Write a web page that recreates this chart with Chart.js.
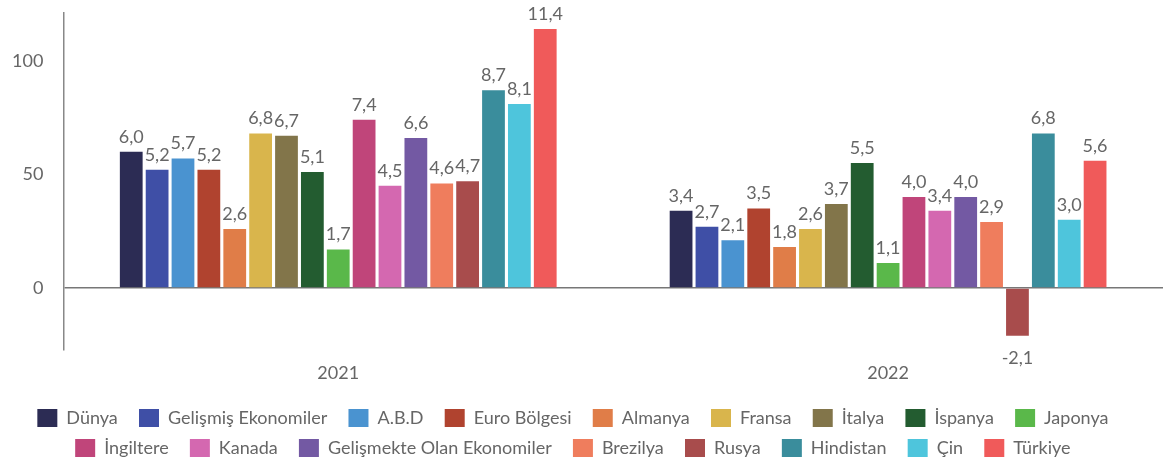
<!DOCTYPE html>
<html>
<head>
<meta charset="utf-8">
<script src="https://cdn.jsdelivr.net/npm/chart.js@4.4.1/dist/chart.umd.min.js"></script>
<style>
  html, body { margin: 0; padding: 0; background: #fff; }
  #wrap { width: 1163px; height: 463px; }
</style>
</head>
<body>
<div id="wrap"><canvas id="growthChart"></canvas></div>
<script>
// Values are read in axis units (bar height); labels show them divided by 10.
const years = ['2021', '2022'];
const seriesNames = [
  'Dünya', 'Gelişmiş Ekonomiler', 'A.B.D', 'Euro Bölgesi', 'Almanya', 'Fransa',
  'İtalya', 'İspanya', 'Japonya', 'İngiltere', 'Kanada', 'Gelişmekte Olan Ekonomiler',
  'Brezilya', 'Rusya', 'Hindistan', 'Çin', 'Türkiye'
];
const dunya = [60, 34];
const gelismis = [52, 27];
const abd = [57, 21];
const euroBolgesi = [52, 35];
const almanya = [26, 18];
const fransa = [68, 26];
const italya = [67, 37];
const ispanya = [51, 55];
const japonya = [17, 11];
const ingiltere = [74, 40];
const kanada = [45, 34];
const gelismekte = [66, 40];
const brezilya = [46, 29];
const rusya = [47, -21];
const hindistan = [87, 68];
const cin = [81, 30];
const turkiye = [114, 56];
const yTicks = [0, 50, 100];

const seriesValues = [
  dunya, gelismis, abd, euroBolgesi, almanya, fransa, italya, ispanya, japonya,
  ingiltere, kanada, gelismekte, brezilya, rusya, hindistan, cin, turkiye
];
const seriesColors = [
  '#2c2c54', '#3f4fa6', '#4a93d0', '#b0432f', '#e07d48', '#d9b54c', '#82754a',
  '#235c30', '#5ab84a', '#c0457a', '#d468b0', '#7359a3', '#ef7d5d', '#a84c4c',
  '#3a8d9c', '#4ec5dc', '#f05a5a'
];

const FONT = 'Lato';
const GREY = '#666';

function formatLabel(v) {
  return (v / 10).toFixed(1).replace('.', ',');
}

// value labels above (or below, for negatives) each bar
const barLabels = {
  id: 'barLabels',
  afterDatasetsDraw(chart) {
    const ctx = chart.ctx;
    ctx.save();
    ctx.font = `18px ${FONT}`;
    ctx.fillStyle = GREY;
    ctx.textAlign = 'center';
    ctx.textBaseline = 'alphabetic';
    chart.data.datasets.forEach((ds, i) => {
      chart.getDatasetMeta(i).data.forEach((bar, j) => {
        const v = ds.data[j];
        const y = v >= 0 ? bar.y - 9 : bar.y + 28;
        ctx.fillText(formatLabel(v), bar.x, y);
      });
    });
    ctx.restore();
  }
};

new Chart(document.getElementById('growthChart'), {
  type: 'bar',
  data: {
    labels: years,
    datasets: seriesNames.map((name, i) => ({
      label: name,
      data: seriesValues[i],
      backgroundColor: seriesColors[i],
      categoryPercentage: 0.8,
      barPercentage: 0.88,
    })),
  },
  options: {
    responsive: true,
    maintainAspectRatio: false,
    animation: false,
    layout: { padding: { top: 13, left: -8, right: 0, bottom: -4 } },
    plugins: {
      legend: {
        position: 'bottom',
        labels: {
          boxWidth: 20,
          boxHeight: 18,
          padding: 12,
          color: GREY,
          font: { family: FONT, size: 18 },
          // a little extra room between items without widening the row gap
          generateLabels: chart =>
            Chart.defaults.plugins.legend.labels.generateLabels(chart)
              .map(item => ({ ...item, text: item.text + '  ' })),
        },
      },
      tooltip: { enabled: false },
    },
    scales: {
      x: {
        grid: { display: false, drawTicks: false },
        border: { display: false },
        ticks: { color: GREY, font: { family: FONT, size: 18 }, padding: 13 },
      },
      y: {
        min: -27,
        max: 121,
        afterBuildTicks: axis => { axis.ticks = yTicks.map(v => ({ value: v })); },
        afterFit: axis => { axis.paddingTop = 0; axis.paddingBottom = 0; },
        grid: {
          drawTicks: false,
          color: c => (c.tick && c.tick.value === 0 ? '#777' : 'rgba(0,0,0,0)'),
          lineWidth: 1.5,
        },
        border: { display: true, color: '#888', width: 1.5 },
        ticks: { color: GREY, font: { family: FONT, size: 18 }, padding: 20 },
      },
    },
  },
  plugins: [barLabels],
});
</script>
</body>
</html>
